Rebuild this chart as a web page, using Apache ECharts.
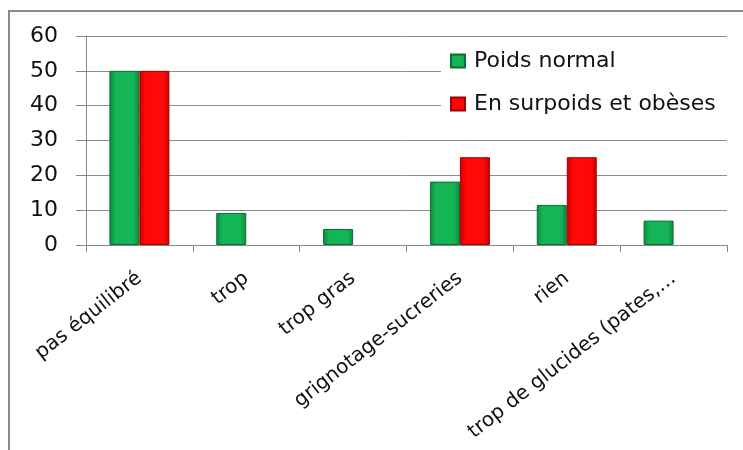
<!DOCTYPE html>
<html><head><meta charset="utf-8">
<script src="https://cdn.jsdelivr.net/npm/echarts@6/dist/echarts.min.js"></script>
<style>html,body{margin:0;padding:0;background:#fff}#c{width:743px;height:450px}</style>
</head><body><div id="c"></div>
<script>
const categories = ['pas équilibré', 'trop', 'trop gras', 'grignotage-sucreries', 'rien', 'trop de glucides (pates,…'];
const seriesNames = ['Poids normal', 'En surpoids et obèses'];
const poidsNormal = [50, 9.2, 4.6, 18.2, 11.5, 7];
const surpoids = [50, null, null, 25.2, 25.2, null];
const yTicks = { min: 0, max: 60, interval: 10 };

const FONT = 'DejaVu Sans';
function grad(edge, mid) {
  return new echarts.graphic.LinearGradient(0, 0, 1, 0, [
    { offset: 0, color: edge }, { offset: 0.2, color: mid },
    { offset: 0.8, color: mid }, { offset: 1, color: edge }
  ]);
}
const chart = echarts.init(document.getElementById('c'));
chart.setOption({
  animation: false,
  backgroundColor: '#fff',
  textStyle: { fontFamily: FONT },
  graphic: [{
    type: 'polyline', shape: { points: [[9, 450], [9, 11], [743, 11]] },
    style: { fill: 'none', stroke: '#8a8a8a', lineWidth: 2 }, z: -1
  }],
  grid: { left: 86, right: 16, top: 36, bottom: 205, containLabel: false, outerBoundsMode: 'none' },
  legend: {
    orient: 'vertical', left: 441, top: 43,
    backgroundColor: '#fff', padding: [7, 14, 7, 9],
    itemGap: 21, itemWidth: 14, itemHeight: 13, icon: 'rect',
    textStyle: { fontFamily: FONT, fontSize: 22, color: '#111', padding: [0, 0, 0, 4] },
    data: seriesNames
  },
  xAxis: {
    type: 'category', data: categories,
    axisLine: { lineStyle: { color: '#888', width: 1 } },
    axisTick: { show: true, length: 7, lineStyle: { color: '#888' } },
    axisLabel: { rotate: 38, fontSize: 20, color: '#111', fontFamily: FONT, margin: 31, interval: 0 }
  },
  yAxis: {
    type: 'value', min: yTicks.min, max: yTicks.max, interval: yTicks.interval,
    axisLine: { show: true, lineStyle: { color: '#888' } },
    axisTick: { show: true, length: 10, inside: false, lineStyle: { color: '#888' } },
    splitLine: { lineStyle: { color: '#8c8c8c', width: 1 } },
    axisLabel: { fontSize: 22, color: '#111', fontFamily: FONT, margin: 28 }
  },
  series: [
    { name: seriesNames[0], type: 'bar', data: poidsNormal, barWidth: 30, barGap: '0%',
      itemStyle: { color: grad('#0a8a3e', '#14b557'), borderColor: '#0b6e33', borderWidth: 1 } },
    { name: seriesNames[1], type: 'bar', data: surpoids, barWidth: 30,
      itemStyle: { color: grad('#c80000', '#ff0808'), borderColor: '#a00000', borderWidth: 1 } }
  ]
});
</script></body></html>
